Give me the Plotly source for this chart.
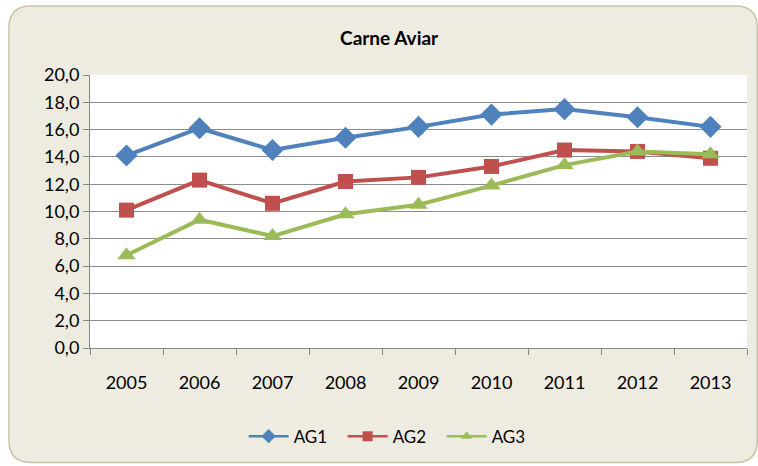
import plotly.graph_objects as go

years = ["2005", "2006", "2007", "2008", "2009", "2010", "2011", "2012", "2013"]
ag1 = [14.1, 16.1, 14.5, 15.4, 16.2, 17.1, 17.5, 16.9, 16.2]
ag2 = [10.1, 12.3, 10.6, 12.2, 12.5, 13.3, 14.5, 14.4, 13.9]
ag3 = [6.8, 9.4, 8.2, 9.8, 10.5, 11.9, 13.4, 14.4, 14.2]

W, H = 758, 466
L, R, T, B = 90, 746.7, 75, 348.3

def px(x):
    return (x - L) / (R - L)

def py(y):
    return (B - y) / (B - T)

def rounded_path(x0, y0, x1, y1, r):
    pts = [
        f"M {px(x0 + r)} {py(y0)}",
        f"L {px(x1 - r)} {py(y0)}",
        f"Q {px(x1)} {py(y0)} {px(x1)} {py(y0 + r)}",
        f"L {px(x1)} {py(y1 - r)}",
        f"Q {px(x1)} {py(y1)} {px(x1 - r)} {py(y1)}",
        f"L {px(x0 + r)} {py(y1)}",
        f"Q {px(x0)} {py(y1)} {px(x0)} {py(y1 - r)}",
        f"L {px(x0)} {py(y0 + r)}",
        f"Q {px(x0)} {py(y0)} {px(x0 + r)} {py(y0)}",
        "Z",
    ]
    return " ".join(pts)

fig = go.Figure()
series = [
    ("AG1", ag1, "#4F81BD", "diamond", 17, 11),
    ("AG2", ag2, "#C0504D", "square", 15, 10),
    ("AG3", ag3, "#9BBB59", "triangle-up", 16, 10),
]
for name, vals, col, sym, sz, lsz in series:
    fig.add_trace(go.Scatter(
        x=years, y=vals, name=name, mode="lines+markers", showlegend=False,
        line=dict(color=col, width=4),
        marker=dict(symbol=sym, size=sz, color=col),
    ))
for name, vals, col, sym, sz, lsz in series:
    fig.add_trace(go.Scatter(
        x=[None], y=[None], name=name, mode="lines+markers", showlegend=True,
        line=dict(color=col, width=2.5),
        marker=dict(symbol=sym, size=lsz, color=col),
    ))

fig.add_shape(type="path", path=rounded_path(9, 6, 757, 463, 22),
              xref="paper", yref="paper", layer="below",
              fillcolor="#EEEBE0", line=dict(color="#C9C3A3", width=1.5))
fig.add_shape(type="rect", x0=0, x1=1, y0=0, y1=1,
              xref="paper", yref="paper", layer="below",
              fillcolor="white", line=dict(width=0))

font = "Lato, Calibri, Carlito, sans-serif"
fig.update_layout(
    width=W, height=H,
    margin=dict(l=L, r=W - R, t=T, b=H - B),
    paper_bgcolor="white", plot_bgcolor="white",
    separators=",.",
    font=dict(family=font, size=18, color="black"),
    title=dict(text="<b>Carne Aviar</b>", x=px(389), xanchor="center",
               xref="paper", y=1 - 38 / H, yanchor="middle",
               font=dict(size=19, family=font)),
    showlegend=True,
    legend=dict(orientation="h", x=px(392), xanchor="center", y=py(437), yanchor="middle",
                font=dict(size=17, family=font), bgcolor="rgba(0,0,0,0)",
                itemwidth=40, tracegroupgap=0, entrywidth=44, entrywidthmode="pixels"),
    xaxis=dict(type="category", tickson="boundaries", ticks="outside", ticklen=6,
               tickcolor="#868686", showline=True, linecolor="#868686", linewidth=1,
               showgrid=False, range=[-0.5, 8.5], ticklabelstandoff=18,
               tickfont=dict(size=18)),
    yaxis=dict(range=[0, 20], dtick=2, tickformat=".1f", ticks="outside", ticklen=6,
               tickcolor="#868686", showline=True, linecolor="#868686", linewidth=1,
               showgrid=True, gridcolor="#8C8C8C", gridwidth=1, zeroline=False,
               tickfont=dict(size=18)),
)

fig.write_html("out.html", config={"displayModeBar": False},
               post_script="document.body.style.margin='0';document.body.style.padding='0';")
